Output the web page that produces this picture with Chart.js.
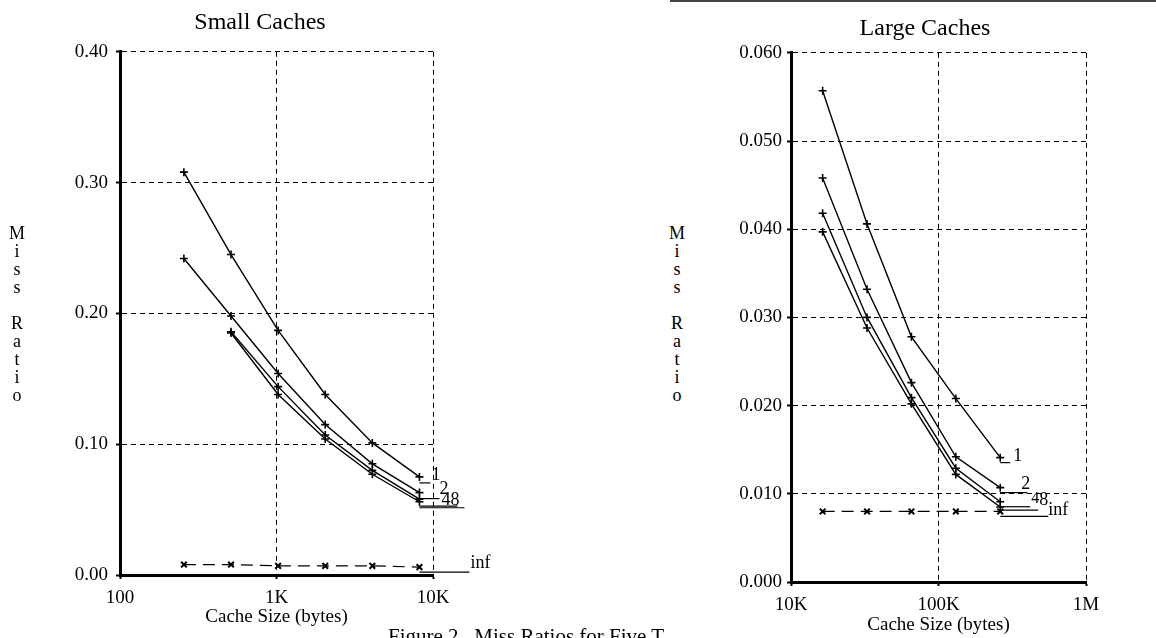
<!DOCTYPE html>
<html>
<head>
<meta charset="utf-8">
<script src="https://cdn.jsdelivr.net/npm/chart.js@4.4.1/dist/chart.umd.min.js"></script>
<style>
  body { margin: 0; background: #fff; width: 1156px; height: 638px; overflow: hidden; position: relative; }
  canvas { position: absolute; top: 0; }
  .vlab { position: absolute; width: 20px; text-align: center; font: 18px/18px "Liberation Serif", serif; color: #000; }
  .caption { position: absolute; left: 388px; top: 626px; font: 21px/21px "Liberation Serif", serif; white-space: nowrap; }
  .rule { position: absolute; top: 0; left: 670px; width: 486px; height: 2px; background: #444; }
</style>
</head>
<body>
<div class="rule"></div>
<canvas id="smallChart" width="520" height="638" style="left:0"></canvas>
<canvas id="largeChart" width="462" height="638" style="left:694px"></canvas>
<div class="vlab" style="left:7px;top:224px">M<br>i<br>s<br>s<br><br>R<br>a<br>t<br>i<br>o</div>
<div class="vlab" style="left:667px;top:224px">M<br>i<br>s<br>s<br><br>R<br>a<br>t<br>i<br>o</div>
<div class="caption">Figure 2.&nbsp; Miss Ratios for Five T</div>
<script>
// small caches (bytes) and miss ratios per associativity
const smallSizes = [256, 512, 1024, 2048, 4096, 8192];
const small1 = [0.308, 0.245, 0.187, 0.138, 0.101, 0.075];
const small2 = [0.242, 0.198, 0.154, 0.115, 0.085, 0.063];
const small4 = [null, 0.186, 0.144, 0.107, 0.080, 0.058];
const small8 = [null, 0.185, 0.138, 0.104, 0.077, 0.056];
const smallInf = [0.008, 0.008, 0.007, 0.007, 0.007, 0.006];
const smallTicks = [100, 1000, 10000];
const smallTickLabels = ['100', '1K', '10K'];

// large caches
const largeSizes = [16384, 32768, 65536, 131072, 262144];
const large1 = [0.0557, 0.0406, 0.0278, 0.0208, 0.0141];
const large2 = [0.0458, 0.0332, 0.0226, 0.0142, 0.0107];
const large4 = [0.0418, 0.0300, 0.0209, 0.0129, 0.0091];
const large8 = [0.0397, 0.0288, 0.0202, 0.0122, 0.0085];
const largeInf = [0.0080, 0.0080, 0.0080, 0.0080, 0.0080];
const largeTicks = [10000, 100000, 1000000];
const largeTickLabels = ['10K', '100K', '1M'];

const FONT = '"Liberation Serif", "Times New Roman", serif';

// little horizontal stub + label at the end of each curve
const leaderPlugin = {
  id: 'leaders',
  afterDatasetsDraw(chart) {
    const ctx = chart.ctx;
    ctx.save();
    ctx.strokeStyle = '#000';
    ctx.fillStyle = '#000';
    ctx.lineWidth = 1.2;
    ctx.textBaseline = 'middle';
    ctx.textAlign = 'left';
    chart.data.datasets.forEach((ds, i) => {
      const lead = ds.leader;
      if (!lead) return;
      const pts = chart.getDatasetMeta(i).data;
      const last = pts[pts.length - 1];
      ctx.beginPath();
      ctx.moveTo(last.x, last.y + lead.dy);
      ctx.lineTo(last.x + lead.len, last.y + lead.dy);
      ctx.stroke();
      ctx.font = (lead.size || 18) + 'px ' + FONT;
      ctx.fillText(lead.text, last.x + lead.tx, last.y + lead.ty);
    });
    ctx.restore();
  }
};

function toPoints(xs, ys) {
  return xs.map((x, i) => ({ x: x, y: ys[i] }));
}

function curve(xs, ys, leader) {
  return {
    data: toPoints(xs, ys).filter(p => p.y !== null),
    borderColor: '#000',
    borderWidth: 1.4,
    pointStyle: 'cross',
    pointRadius: 4,
    pointBorderWidth: 1.6,
    pointBorderColor: '#000',
    fill: false,
    tension: 0,
    leader: leader
  };
}

function infCurve(xs, ys, leader) {
  const ds = curve(xs, ys, leader);
  ds.borderDash = [12, 7];
  ds.borderWidth = 1.2;
  ds.pointStyle = 'crossRot';
  ds.pointBorderWidth = 2;
  return ds;
}

const gridOpts = {
  color: '#000',
  lineWidth: 1,
  tickLength: 4,
  tickBorderDash: [],
  tickWidth: 2,
  tickColor: '#000'
};

// in v4 border.dash dashes the grid lines, the axis line stays solid
const borderOpts = { display: true, color: '#000', width: 3, dash: [5, 4] };

function makeChart(id, cfg) {
  return new Chart(document.getElementById(id), {
    type: 'line',
    data: { datasets: cfg.datasets },
    plugins: [leaderPlugin],
    options: {
      responsive: false,
      animation: false,
      devicePixelRatio: 1,
      layout: { padding: 0 },
      plugins: {
        legend: { display: false },
        tooltip: { enabled: false },
        title: {
          display: true,
          text: cfg.title,
          color: '#000',
          font: { family: FONT, size: 24, weight: 'normal' },
          padding: cfg.titlePad
        }
      },
      scales: {
        x: {
          type: 'logarithmic',
          min: cfg.xTicks[0],
          max: cfg.xTicks[cfg.xTicks.length - 1],
          afterBuildTicks: s => { s.ticks = cfg.xTicks.map(v => ({ value: v })); },
          afterFit: s => { s.height = cfg.xHeight; },
          ticks: {
            autoSkip: false,
            maxRotation: 0,
            padding: 8,
            color: '#000',
            font: { family: FONT, size: 19 },
            callback: (v, i) => cfg.xLabels[i]
          },
          grid: gridOpts,
          border: borderOpts,
          title: {
            display: true,
            text: 'Cache Size (bytes)',
            color: '#000',
            font: { family: FONT, size: 19 },
            padding: { top: 0, bottom: cfg.xTitlePad }
          }
        },
        y: {
          min: 0,
          max: cfg.yMax,
          afterFit: s => { s.width = cfg.yWidth; },
          ticks: {
            stepSize: cfg.yStep,
            padding: cfg.yPad,
            color: '#000',
            font: { family: FONT, size: 19 },
            callback: v => Number(v).toFixed(cfg.yDigits)
          },
          grid: gridOpts,
          border: borderOpts
        },
        // empty right axis, only keeps room for the curve labels
        spacer: {
          type: 'linear',
          position: 'right',
          afterFit: s => { s.width = cfg.padRight; },
          ticks: { display: false },
          grid: { display: false, drawTicks: false },
          border: { display: false }
        }
      }
    }
  });
}

makeChart('smallChart', {
  title: 'Small Caches',
  titlePad: { top: 8, bottom: 15 },
  padRight: 87,
  yWidth: 120,
  yPad: 8,
  xHeight: 63,
  xTitlePad: 10,
  yMax: 0.4,
  yStep: 0.1,
  yDigits: 2,
  xTicks: smallTicks,
  xLabels: smallTickLabels,
  datasets: [
    curve(smallSizes, small1, { text: '1', dy: 6, len: 11, tx: 12, ty: -2 }),
    curve(smallSizes, small2, { text: '2', dy: 6, len: 20, tx: 20, ty: -3 }),
    curve(smallSizes, small4, { text: '4', dy: 7, len: 38, tx: 22, ty: 1 }),
    curve(smallSizes, small8, { text: '8', dy: 6, len: 45, tx: 31, ty: -1 }),
    infCurve(smallSizes, smallInf, { text: 'inf', dy: 5, len: 50, tx: 51, ty: -4 })
  ]
});

makeChart('largeChart', {
  title: 'Large Caches',
  titlePad: { top: 14, bottom: 10 },
  padRight: 70,
  yWidth: 97,
  yPad: 5,
  xHeight: 56,
  xTitlePad: 2,
  yMax: 0.06,
  yStep: 0.01,
  yDigits: 3,
  xTicks: largeTicks,
  xLabels: largeTickLabels,
  datasets: [
    curve(largeSizes, large1, { text: '1', dy: 5, len: 10, tx: 13, ty: -1 }),
    curve(largeSizes, large2, { text: '2', dy: 5, len: 27, tx: 21, ty: -3 }),
    curve(largeSizes, large4, { text: '4', dy: 5, len: 30, tx: 31, ty: -3, size: 16 }),
    curve(largeSizes, large8, { text: '8', dy: 3, len: 38, tx: 39, ty: -7 }),
    infCurve(largeSizes, largeInf, { text: 'inf', dy: 5, len: 48, tx: 48, ty: -1 })
  ]
});
</script>
</body>
</html>
